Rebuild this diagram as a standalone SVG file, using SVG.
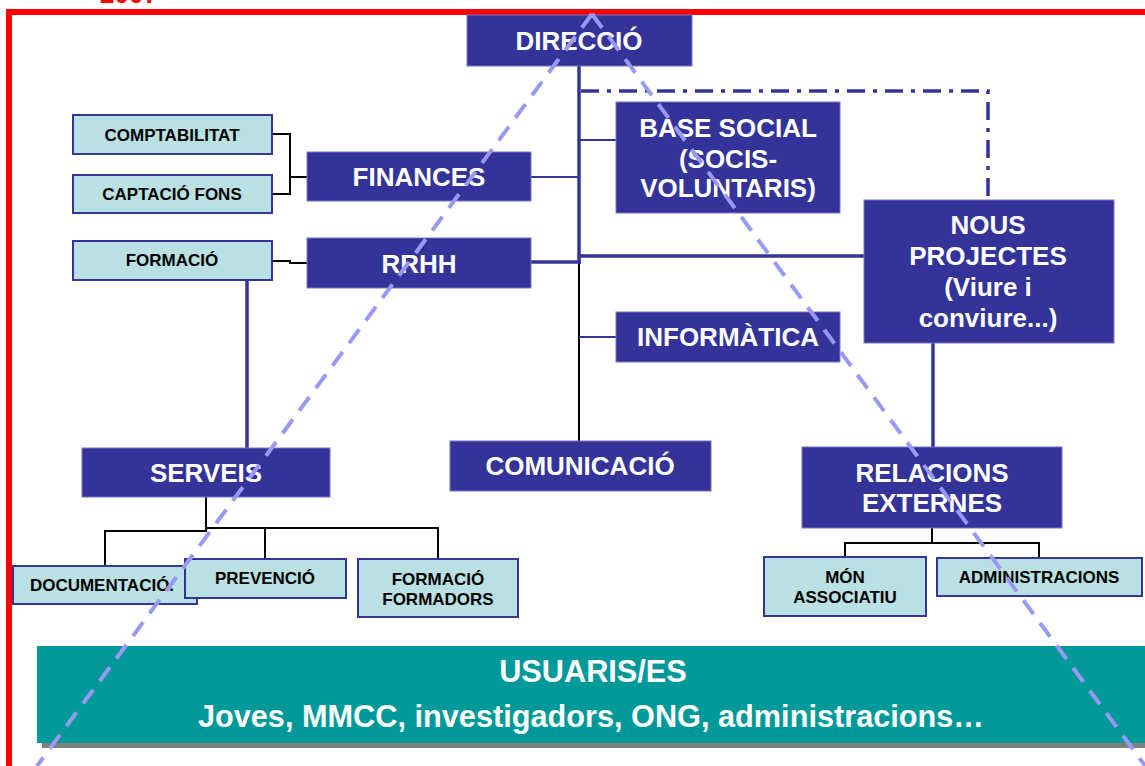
<svg xmlns="http://www.w3.org/2000/svg" width="1145" height="766" viewBox="0 0 1145 766">
<style>
.dk{fill:#333399;stroke:#7777c4;stroke-width:1}
.lt{fill:#b9e0e2;stroke:#333399;stroke-width:2}
.tw{font-family:"Liberation Sans",Arial,sans-serif;font-weight:bold;font-size:26px;fill:#ffffff;text-anchor:middle}
.tb{font-family:"Liberation Sans",Arial,sans-serif;font-weight:bold;font-size:17px;fill:#000000;text-anchor:middle}
.tu{font-family:"Liberation Sans",Arial,sans-serif;font-weight:bold;font-size:30.7px;fill:#ffffff;text-anchor:middle}
.bl{fill:none;stroke:#000000;stroke-width:2}
.bt{fill:none;stroke:#333399;stroke-width:2}
.bk{fill:none;stroke:#333399;stroke-width:3.5}
.dd{fill:none;stroke:#333399;stroke-width:3.5;stroke-dasharray:18 8 4 8}
.tri{fill:none;stroke:#9999f5;stroke-width:4;stroke-dasharray:17 11}
</style>
<rect width="1145" height="766" fill="#ffffff"/>
<text x="129" y="3" font-family="Liberation Sans, Arial, sans-serif" font-weight="bold" font-size="26" fill="#ff0000" text-anchor="middle">2007</text>
<rect x="9" y="12" width="1160" height="780" fill="none" stroke="#ff0000" stroke-width="6"/>

<g id="usuaris">
<rect x="42" y="651" width="1120" height="97" fill="#808080"/>
<rect x="37" y="646" width="1120" height="97" fill="#009999"/>
<text class="tu" x="593" y="682">USUARIS/ES</text>
<text class="tu" x="591" y="727">Joves, MMCC, investigadors, ONG, administracions…</text>
</g>

<g id="connectors">
<line class="bk" x1="579" y1="66" x2="579" y2="262"/>
<line class="bl" x1="579" y1="262" x2="579" y2="441"/>
<polyline class="dd" points="581,91 988,91 988,200"/>
<line class="bt" x1="531" y1="177" x2="579" y2="177"/>
<line class="bk" x1="531" y1="262" x2="581" y2="262"/>
<line class="bt" x1="579" y1="140" x2="616" y2="140"/>
<line class="bt" x1="579" y1="337" x2="616" y2="337"/>
<line class="bk" x1="579" y1="256" x2="864" y2="256"/>
<polyline class="bl" points="272,134 290,134 290,194 272,194"/>
<line class="bl" x1="290" y1="177" x2="308" y2="177"/>
<polyline class="bl" points="272,261 290,261 290,263 308,263"/>
<line class="bk" x1="247" y1="280" x2="247" y2="448"/>
<line class="bk" x1="933" y1="343" x2="933" y2="447"/>
<polyline class="bl" points="206,497 206,528 438,528 438,559"/>
<polyline class="bl" points="206,528 206,531 105,531 105,566"/>
<line class="bl" x1="265" y1="528" x2="265" y2="559"/>
<polyline class="bl" points="932,528 932,543 845,543 845,557"/>
<polyline class="bl" points="932,543 1039,543 1039,557"/>
</g>

<g id="direccio"><rect class="dk" x="467" y="15" width="225" height="51"/><text class="tw" x="579" y="50">DIRECCIÓ</text></g>
<g id="comptabilitat"><rect class="lt" x="73" y="115" width="199" height="39"/><text class="tb" x="172" y="141">COMPTABILITAT</text></g>
<g id="captacio"><rect class="lt" x="73" y="175" width="199" height="38"/><text class="tb" x="172" y="200">CAPTACIÓ FONS</text></g>
<g id="formacio"><rect class="lt" x="73" y="241" width="199" height="39"/><text class="tb" x="172" y="266">FORMACIÓ</text></g>
<g id="finances"><rect class="dk" x="307" y="152" width="224" height="49"/><text class="tw" x="419" y="186">FINANCES</text></g>
<g id="rrhh"><rect class="dk" x="307" y="238" width="224" height="50"/><text class="tw" x="419" y="273">RRHH</text></g>
<g id="basesocial"><rect class="dk" x="616" y="102" width="224" height="111"/>
<text class="tw" x="728" y="137">BASE SOCIAL</text><text class="tw" x="728" y="168">(SOCIS-</text><text class="tw" x="728" y="197">VOLUNTARIS)</text></g>
<g id="nousprojectes"><rect class="dk" x="864" y="200" width="250" height="143"/>
<text class="tw" x="988" y="234">NOUS</text><text class="tw" x="988" y="265">PROJECTES</text><text class="tw" x="988" y="296">(Viure i</text><text class="tw" x="988" y="327">conviure...)</text></g>
<g id="informatica"><rect class="dk" x="616" y="312" width="224" height="50"/><text class="tw" x="728" y="346">INFORMÀTICA</text></g>
<g id="comunicacio"><rect class="dk" x="450" y="441" width="261" height="50"/><text class="tw" x="580" y="475">COMUNICACIÓ</text></g>
<g id="serveis"><rect class="dk" x="82" y="448" width="248" height="49"/><text class="tw" x="206" y="482">SERVEIS</text></g>
<g id="relacions"><rect class="dk" x="802" y="447" width="260" height="81"/>
<text class="tw" x="932" y="482">RELACIONS</text><text class="tw" x="932" y="512">EXTERNES</text></g>
<g id="documentacio"><rect class="lt" x="13" y="566" width="184" height="38"/><text class="tb" x="102" y="591">DOCUMENTACIÓ.</text></g>
<g id="prevencio"><rect class="lt" x="185" y="559" width="161" height="39"/><text class="tb" x="265" y="584">PREVENCIÓ</text></g>
<g id="formadors"><rect class="lt" x="358" y="559" width="160" height="58"/>
<text class="tb" x="438" y="585">FORMACIÓ</text><text class="tb" x="438" y="605">FORMADORS</text></g>
<g id="monassociatiu"><rect class="lt" x="764" y="557" width="162" height="59"/>
<text class="tb" x="845" y="583">MÓN</text><text class="tb" x="845" y="603">ASSOCIATIU</text></g>
<g id="administracions"><rect class="lt" x="937" y="558" width="205" height="38"/><text class="tb" x="1039" y="583">ADMINISTRACIONS</text></g>

<g id="triangle">
<line class="tri" x1="592" y1="14" x2="37" y2="766"/>
<line class="tri" x1="592" y1="14" x2="1146" y2="767"/>
</g>
</svg>
